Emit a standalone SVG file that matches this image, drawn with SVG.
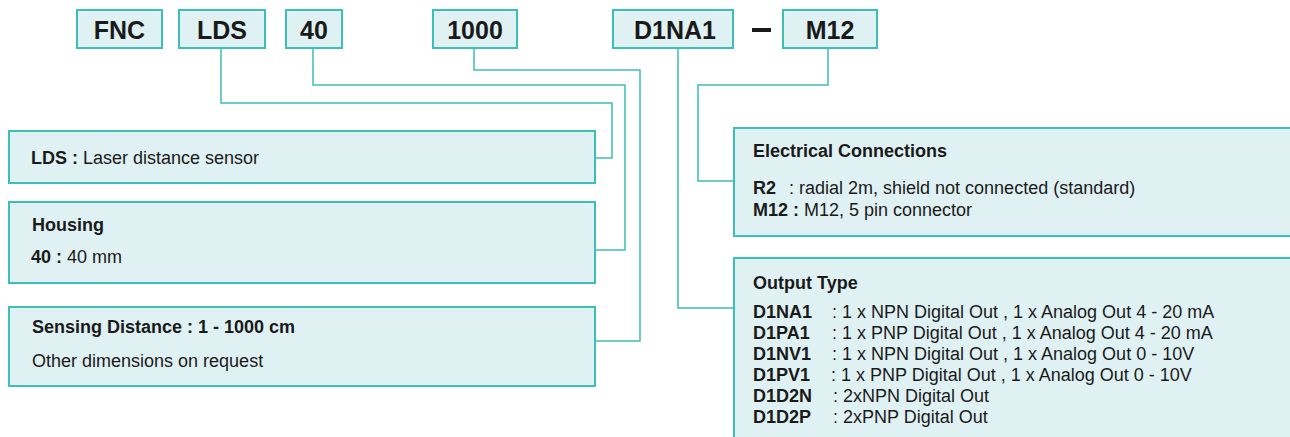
<svg xmlns="http://www.w3.org/2000/svg" width="1290" height="437" viewBox="0 0 1290 437">
<style>
.box{fill:#e0f1f3;stroke:#3cbfb5;stroke-width:2}
.con{fill:none;stroke:#3cbfb5;stroke-width:1.5}
.code{font-family:"Liberation Sans",Arial,sans-serif;font-weight:bold;font-size:25px;fill:#1a1a1a;text-anchor:middle}
.t{font-family:"Liberation Sans",Arial,sans-serif;font-size:18px;fill:#1a1a1a}
.b{font-weight:bold}
</style>
<rect width="1290" height="437" fill="#ffffff"/>
<g id="connectors">
<path class="con" d="M221,48 V103 H612 V158 H595"/>
<path class="con" d="M313,48 V85 H625 V250 H595"/>
<path class="con" d="M474,48 V70 H640 V341 H595"/>
<path class="con" d="M678,48 V308 H734"/>
<path class="con" d="M828,48 V85 H698 V181 H734"/>
</g>
<g id="code-fnc"><rect class="box" x="77" y="10" width="85" height="38"/><text class="code" x="119.5" y="39">FNC</text></g>
<g id="code-lds"><rect class="box" x="179" y="10" width="86" height="38"/><text class="code" x="222" y="39">LDS</text></g>
<g id="code-40"><rect class="box" x="286" y="10" width="56" height="38"/><text class="code" x="314" y="39">40</text></g>
<g id="code-1000"><rect class="box" x="433" y="10" width="84" height="38"/><text class="code" x="475" y="39">1000</text></g>
<g id="code-d1na1"><rect class="box" x="613" y="10" width="120" height="38"/><text class="code" x="675" y="39">D1NA1</text></g>
<g id="dash"><rect x="752" y="28" width="19" height="4" fill="#1a1a1a"/></g>
<g id="code-m12"><rect class="box" x="783" y="10" width="94" height="38"/><text class="code" x="830" y="39">M12</text></g>
<g id="box-lds"><rect class="box" x="9" y="131" width="586" height="52"/>
<text class="t" x="31" y="164"><tspan class="b">LDS :</tspan> Laser distance sensor</text></g>
<g id="box-housing"><rect class="box" x="9" y="202" width="586" height="81"/>
<text class="t b" x="32" y="231">Housing</text>
<text class="t" x="31" y="263"><tspan class="b">40 :</tspan> 40 mm</text></g>
<g id="box-sensing"><rect class="box" x="9" y="307" width="586" height="79"/>
<text class="t b" x="32" y="333">Sensing Distance : 1 - 1000 cm</text>
<text class="t" x="32" y="367">Other dimensions on request</text></g>
<g id="box-electrical"><rect class="box" x="734" y="128" width="560" height="108"/>
<text class="t b" x="753" y="157">Electrical Connections</text>
<text class="t" x="753" y="194"><tspan class="b">R2</tspan><tspan x="789">: radial 2m, shield not connected (standard)</tspan></text>
<text class="t" x="753" y="216"><tspan class="b">M12 :</tspan> M12, 5 pin connector</text></g>
<g id="box-output"><rect class="box" x="734" y="258" width="560" height="185"/>
<text class="t b" x="753" y="289">Output Type</text>
<text class="t" x="753" y="318"><tspan class="b">D1NA1</tspan><tspan x="832">: 1 x NPN Digital Out , 1 x Analog Out 4 - 20 mA</tspan></text>
<text class="t" x="753" y="339"><tspan class="b">D1PA1</tspan><tspan x="832">: 1 x PNP Digital Out , 1 x Analog Out 4 - 20 mA</tspan></text>
<text class="t" x="753" y="360"><tspan class="b">D1NV1</tspan><tspan x="832">: 1 x NPN Digital Out , 1 x Analog Out 0 - 10V</tspan></text>
<text class="t" x="753" y="381"><tspan class="b">D1PV1</tspan><tspan x="831">: 1 x PNP Digital Out , 1 x Analog Out 0 - 10V</tspan></text>
<text class="t" x="753" y="402"><tspan class="b">D1D2N</tspan><tspan x="833">: 2xNPN Digital Out</tspan></text>
<text class="t" x="753" y="423"><tspan class="b">D1D2P</tspan><tspan x="833">: 2xPNP Digital Out</tspan></text></g>
</svg>
